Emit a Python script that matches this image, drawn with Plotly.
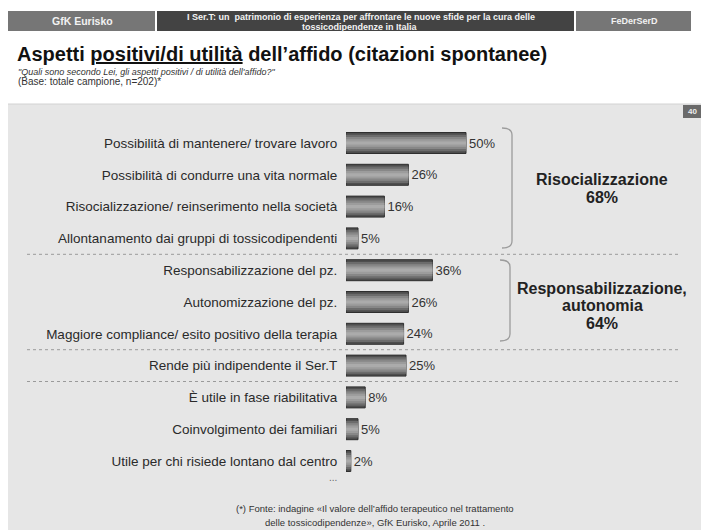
import plotly.graph_objects as go

W, H = 701, 530

categories = [
    "Possibilità di mantenere/ trovare lavoro",
    "Possibilità di condurre una vita normale",
    "Risocializzazione/ reinserimento nella società",
    "Allontanamento dai gruppi di tossicodipendenti",
    "Responsabilizzazione del pz.",
    "Autonomizzazione del pz.",
    "Maggiore compliance/ esito positivo della terapia",
    "Rende più indipendente il Ser.T",
    "È utile in fase riabilitativa",
    "Coinvolgimento dei familiari",
    "Utile per chi risiede lontano dal centro",
]
values = [50, 26, 16, 5, 36, 26, 24, 25, 8, 5, 2]
separators_after = [3, 6, 7]
group_labels = [["Risocializzazione", "68%"], ["Responsabilizzazione,", "autonomia", "64%"]]

FONT = "Liberation Sans"


def px(x):
    return x / W


def py(y):
    return 1 - y / H


fig = go.Figure()

# layered bars to imitate cylindrical gradient
layers = [
    (0.66, "#4e4e4e", True),
    (0.52, "#6c6c6c", False),
    (0.38, "#878787", False),
    (0.24, "#9c9c9c", False),
    (0.10, "#ababab", False),
]
for w, col, main in layers:
    fig.add_trace(go.Bar(
        x=values, y=categories, orientation="h",
        width=w,
        marker=dict(color=col, line=dict(color="#2e2e2e", width=1 if main else 0)),
        text=[f"{v}%" for v in values] if main else None,
        textposition="outside" if main else "none",
        textfont=dict(family=FONT, size=13, color="#333333"),
        cliponaxis=False,
        hoverinfo="skip",
        showlegend=False,
    ))

shapes = []
# header cells
shapes.append(dict(type="rect", xref="paper", yref="paper", x0=px(8), x1=px(155), y0=py(31), y1=py(11),
                   fillcolor="#767676", line=dict(width=0), layer="below"))
shapes.append(dict(type="rect", xref="paper", yref="paper", x0=px(157), x1=px(574), y0=py(31), y1=py(11),
                   fillcolor="#434343", line=dict(width=0), layer="below"))
shapes.append(dict(type="rect", xref="paper", yref="paper", x0=px(576), x1=px(691), y0=py(31), y1=py(11),
                   fillcolor="#767676", line=dict(width=0), layer="below"))
# panel
shapes.append(dict(type="rect", xref="paper", yref="paper", x0=px(8), x1=px(701), y0=py(530), y1=py(104),
                   fillcolor="#e6e6e6", line=dict(width=0), layer="below"))
shapes.append(dict(type="line", xref="paper", yref="paper", x0=px(8), x1=px(701), y0=py(104), y1=py(104),
                   line=dict(color="#d2d2d2", width=1), layer="below"))
# page number box
shapes.append(dict(type="rect", xref="paper", yref="paper", x0=px(683), x1=px(701), y0=py(118), y1=py(105),
                   fillcolor="#6a6a6a", line=dict(width=0)))
# dotted separators
for s in separators_after:
    shapes.append(dict(type="line", xref="paper", yref="y", x0=px(27), x1=px(680), y0=s + 0.5, y1=s + 0.5,
                       line=dict(color="#9a9a9a", width=1, dash="dot")))


def bracket(xl, xr, yt, yb):
    r = 7
    pts = (f"M {px(xl)},{py(yt)} Q {px(xr)},{py(yt)} {px(xr)},{py(yt + r)} "
           f"L {px(xr)},{py(yb - r)} Q {px(xr)},{py(yb)} {px(xl)},{py(yb)}")
    return dict(type="path", xref="paper", yref="paper", path=pts,
                line=dict(color="#9c9c9c", width=1.3))


shapes.append(bracket(502, 512, 128, 248))
shapes.append(bracket(500, 510, 260, 341))

ann = []


def text(x, y, t, size, color="#222222", bold=False, italic=False, xanchor="center"):
    if italic:
        t = f"<i>{t}</i>"
    ann.append(dict(x=px(x), y=py(y), xref="paper", yref="paper", text=t, showarrow=False,
                    xanchor=xanchor, yanchor="middle",
                    font=dict(family=FONT, size=size, color=color,
                              weight="bold" if bold else "normal")))


# header texts
text(82, 21, "GfK Eurisko", 10.5, "#f2f2f2", bold=True)
text(361, 16.5, "I Ser.T: un  patrimonio di esperienza per affrontare le nuove sfide per la cura delle", 9,
     "#f2f2f2", bold=True)
text(360, 26.5, "tossicodipendenze in Italia", 9, "#f2f2f2", bold=True)
text(634, 21, "FeDerSerD", 9, "#f2f2f2", bold=True)

# title + subtitles
text(15, 54, "Aspetti <u>positivi/di utilità</u> dell’affido (citazioni spontanee)", 20, "#111111",
     bold=True, xanchor="left")
text(16, 71.5, "\"Quali sono secondo Lei, gli aspetti positivi / di utilità dell'affido?\"", 9, "#333333",
     italic=True, xanchor="left")
text(16, 82, "(Base: totale campione, n=202)*", 10, "#333333", xanchor="left")

text(692, 111.5, "40", 8, "#eeeeee", bold=True)

# group labels
text(602, 179, group_labels[0][0], 16, bold=True)
text(602, 198, group_labels[0][1], 16, bold=True)
text(602, 288, group_labels[1][0], 16, bold=True)
text(602, 305, group_labels[1][1], 16, bold=True)
text(602, 323, group_labels[1][2], 16, bold=True)

text(333, 477, "...", 10, "#666666")

# footnote
text(375, 508, "(*) Fonte: indagine «Il valore dell’affido terapeutico nel trattamento", 9.5, "#333333")
text(375, 522, "delle tossicodipendenze», GfK Eurisko, Aprile 2011 .", 9.5, "#333333")

row0, step = 143, 31.8
y_top = row0 - step / 2
y_bot = row0 + step * (len(categories) - 1) + step / 2

fig.update_layout(
    width=W, height=H,
    margin=dict(l=0, r=0, t=0, b=0),
    paper_bgcolor="white",
    plot_bgcolor="rgba(0,0,0,0)",
    barmode="overlay",
    shapes=shapes,
    annotations=ann,
    xaxis=dict(domain=[px(346), px(346 + 240)], range=[0, 100], visible=False, fixedrange=True),
    yaxis=dict(domain=[py(y_bot), py(y_top)], type="category",
               categoryorder="array", categoryarray=categories,
               range=[len(categories) - 0.5, -0.5],
               showgrid=False, zeroline=False, showline=False,
               ticks="outside", ticklen=5, tickcolor="rgba(0,0,0,0)",
               tickfont=dict(family=FONT, size=13.5, color="#2a2a2a"),
               fixedrange=True),
    font=dict(family=FONT),
)

fig.write_html("out.html")
